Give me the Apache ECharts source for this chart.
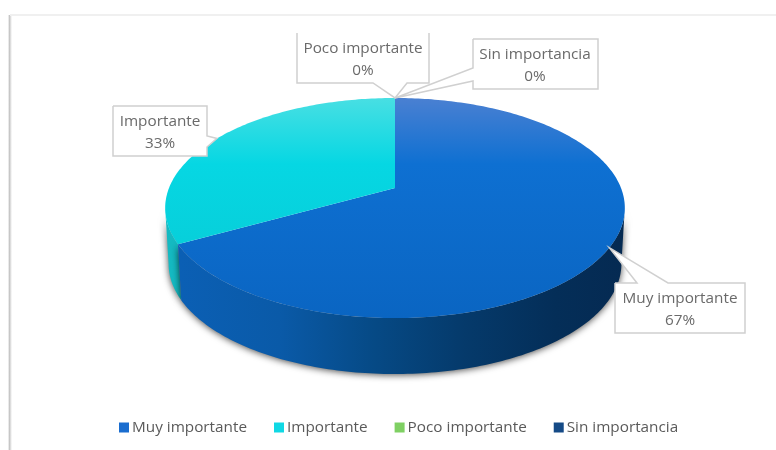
<!DOCTYPE html>
<html>
<head>
<meta charset="utf-8">
<script src="https://cdn.jsdelivr.net/npm/echarts@6/dist/echarts.min.js"></script>
<style>
html,body{margin:0;padding:0;background:#fff}
#c{width:776px;height:450px;filter:blur(0.4px)}
</style>
</head>
<body>
<div id="c"></div>
<script>
// Data
const categories = ['Muy importante', 'Importante', 'Poco importante', 'Sin importancia'];
const values = [67, 33, 0, 0];
const legendColors = ['#1a6dcf', '#10d8e4', '#7fd063', '#154a86'];

// Pie geometry (perspective projection of a tilted disc)
const geo = { cx: 395, cy: 188, a: 106.4, b: 226, k: 0.1818, depth: 56, baseScale: 0.985 };

// Styling per category
const topStops = [
  [[0, '#4a80d2'], [0.3, '#0e70d2'], [1, '#0a65c2']],
  [[0, '#48dfe3'], [0.3, '#06d7e3'], [1, '#08c8d2']],
  [[0, '#7fd063'], [1, '#6cc050']],
  [[0, '#154a86'], [1, '#103a6c']]
];
const wallStops = [
  [[0, '#0b60b6'], [0.25, '#0a5aa8'], [0.45, '#064a86'], [0.65, '#053a6b'], [0.85, '#042e58'], [1, '#052a52']],
  [[0, '#14bac2'], [1, '#0fb0bb']],
  [[0, '#5fa046'], [1, '#5fa046']],
  [[0, '#0d3056'], [1, '#0d3056']]
];

// Callout outlines: points before and after the pointer tip
const callouts = [
  { before: [[615,283],[637,283]], after: [[668,283],[745,283],[745,333],[615,333]], closed: true, tx: 680, ty: [299,321] },
  { before: [[113,106],[207,106],[207,136]], after: [[207,147],[207,156],[113,156]], closed: true, tx: 160, ty: [122,144] },
  { before: [[429,33],[429,83],[407,83]], after: [[373,83],[297,83],[297,33]], closed: false, tx: 363, ty: [49,71] },
  { before: [[473,39],[598,39],[598,89],[473,89],[473,81]], after: [[473,68]], closed: true, tx: 535, ty: [55,77] }
];

const total = values.reduce((s, v) => s + v, 0);
const labelFont = '15.3px "Open Sans", "Noto Sans", sans-serif';

function project(theta, drop, scale) {
  const u = Math.sin(theta), v = -Math.cos(theta), w = 1 - geo.k * v;
  return [geo.cx + scale * geo.b * u / w, geo.cy + drop + geo.a * v / w];
}
function arc(t0, t1, drop, scale) {
  const n = Math.max(1, Math.ceil(Math.abs(t1 - t0) / (Math.PI / 180)));
  const pts = [];
  for (let i = 0; i <= n; i++) pts.push(project(t0 + (t1 - t0) * i / n, drop, scale));
  return pts;
}
const visL = Math.acos(-geo.k), visR = 2 * Math.PI - visL;

function renderSlice(index) {
  return function (params, api) {
    const value = api.value(0);
    let start = 0;
    for (let i = 0; i < index; i++) start += values[i] / total * 2 * Math.PI;
    const end = start + value / total * 2 * Math.PI;
    const mid = (start + end) / 2;
    const children = [];
    if (value > 0) {
      const w0 = Math.max(start, visL), w1 = Math.min(end, visR);
      if (w1 > w0) {
        children.push({
          type: 'polygon', z2: 3 - index,
          shape: { points: arc(w0, w1, 0, 1).concat(arc(w1, w0, geo.depth, geo.baseScale)) },
          style: {
            fill: new echarts.graphic.LinearGradient(165, 0, 625, 0, wallStops[index].map(s => ({ offset: s[0], color: s[1] })), true),
            shadowBlur: 7, shadowColor: 'rgba(0,0,0,0.7)', shadowOffsetX: 0, shadowOffsetY: 1
          }
        });
      }
      children.push({
        type: 'polygon', z2: 5,
        shape: { points: [[geo.cx, geo.cy]].concat(arc(start, end, 0, 1)) },
        style: {
          fill: new echarts.graphic.LinearGradient(0, 98, 0, 318, topStops[index].map(s => ({ offset: s[0], color: s[1] })), true)
        }
      });
    }
    const c = callouts[index];
    const tip = project(mid, 0, 1);
    const outline = c.before.concat([tip], c.after);
    children.push({ type: 'polygon', z2: 6, shape: { points: outline }, style: { fill: '#ffffff', stroke: null } });
    children.push({
      type: 'polyline', z2: 7,
      shape: { points: c.closed ? outline.concat([outline[0]]) : outline },
      style: { fill: null, stroke: '#d0d0d0', lineWidth: 1.5 }
    });
    const lines = [categories[index], Math.round(value / total * 100) + '%'];
    lines.forEach((t, i) => children.push({
      type: 'text', z2: 8,
      style: { text: t, x: c.tx, y: c.ty[i], align: 'center', verticalAlign: 'middle', fill: '#6a6a6a', font: labelFont }
    }));
    return { type: 'group', children };
  };
}

const chart = echarts.init(document.getElementById('c'), null, { renderer: 'canvas' });
chart.setOption({
  animation: false,
  backgroundColor: '#ffffff',
  graphic: [
    { type: 'rect', shape: { x: 8, y: 15, width: 4, height: 435 }, silent: true, z: 0,
      style: { fill: new echarts.graphic.LinearGradient(0, 0, 1, 0, [
        { offset: 0, color: '#ffffff' }, { offset: 0.35, color: '#c4c4c4' }, { offset: 1, color: '#ffffff' }]) } },
    { type: 'rect', shape: { x: 10, y: 14, width: 766, height: 2 }, silent: true, z: 0, style: { fill: '#f0f0f0' } }
  ],
  legend: {
    left: 114, top: 415, itemGap: 27, itemWidth: 10, itemHeight: 10, icon: 'rect',
    selectedMode: false,
    data: categories,
    textStyle: { color: '#5a5a5a', fontFamily: '"Open Sans", "Noto Sans", sans-serif', fontSize: 15.3, padding: [0, 0, 0, -2] }
  },
  series: categories.map((name, i) => ({
    type: 'custom',
    name,
    coordinateSystem: 'none',
    silent: true,
    clip: false,
    itemStyle: { color: legendColors[i] },
    renderItem: renderSlice(i),
    data: [[values[i]]]
  }))
});
</script>
</body>
</html>
